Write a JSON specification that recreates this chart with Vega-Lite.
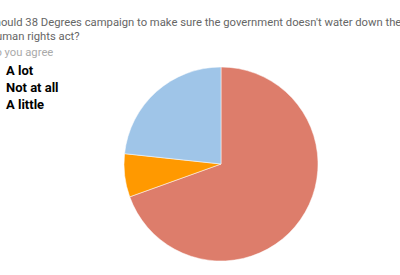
{
  "$schema": "https://vega.github.io/schema/vega-lite/v6.json",
  "autosize": "none",
  "width": 442,
  "height": 208,
  "padding": {"left": 0, "top": 60, "right": 0, "bottom": 0},
  "background": "white",
  "title": {
    "text": ["Should 38 Degrees campaign to make sure the government doesn't water down the", "Human rights act?"],
    "subtitle": "Do you agree",
    "anchor": "start",
    "dx": 2,
    "offset": 2,
    "font": "Roboto",
    "fontSize": 11.25,
    "fontWeight": "normal",
    "color": "#666666",
    "lineHeight": 13.5,
    "subtitleFont": "Roboto",
    "subtitleFontSize": 11.25,
    "subtitleColor": "#aaaaaa",
    "subtitlePadding": 5
  },
  "data": {
    "values": [
      {"answer": "A lot", "share": 69.5, "rank": 1},
      {"answer": "Not at all", "share": 7.2, "rank": 2},
      {"answer": "A little", "share": 23.3, "rank": 3}
    ]
  },
  "mark": {"type": "arc", "outerRadius": 97, "stroke": "white", "strokeWidth": 0.5},
  "encoding": {
    "theta": {"field": "share", "type": "quantitative", "stack": true},
    "order": {"field": "rank", "type": "quantitative"},
    "color": {
      "field": "answer",
      "type": "nominal",
      "sort": ["A lot", "Not at all", "A little"],
      "scale": {"domain": ["A lot", "Not at all", "A little"], "range": ["#DD7D6B", "#FF9900", "#9FC5E8"]},
      "legend": {
        "title": null,
        "orient": "none",
        "legendX": -14,
        "legendY": 4,
        "symbolType": "circle",
        "symbolSize": 60,
        "labelFont": "Roboto",
        "labelFontSize": 13,
        "labelFontWeight": "bold",
        "labelColor": "#000000",
        "labelOffset": 7,
        "rowPadding": 2
      }
    }
  },
  "config": {"view": {"stroke": null}}
}
